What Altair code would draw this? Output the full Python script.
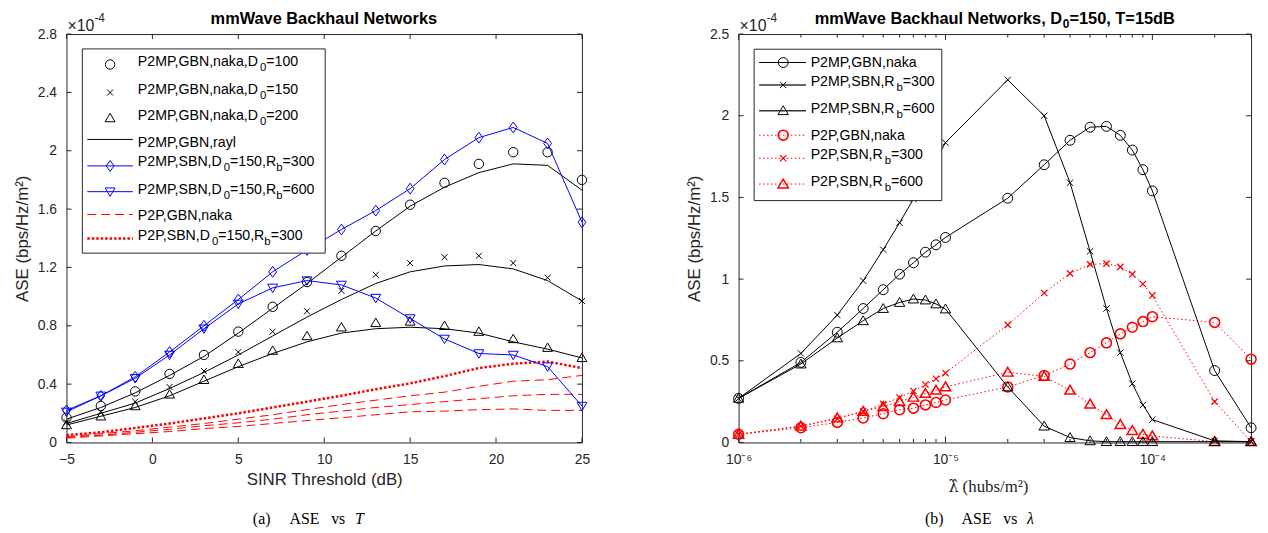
import altair as alt
import pandas as pd

# ---------------- data: left panel (ASE in units of 1e-4 bps/Hz/m^2) ----------------
T_DB = [-5, -3, -1, 1, 3, 5, 7, 9, 11, 13, 15, 17, 19, 21, 23, 25]
NAKA_D100 = [0.17, 0.25, 0.35, 0.47, 0.60, 0.76, 0.93, 1.10, 1.28, 1.45, 1.63, 1.78, 1.91, 1.99, 1.99, 1.80]
NAKA_D150 = [0.14, 0.21, 0.28, 0.38, 0.49, 0.62, 0.76, 0.90, 1.04, 1.15, 1.23, 1.27, 1.28, 1.23, 1.13, 0.97]
NAKA_D200 = [0.12, 0.18, 0.25, 0.33, 0.43, 0.54, 0.63, 0.73, 0.79, 0.82, 0.83, 0.80, 0.76, 0.71, 0.65, 0.58]
RAYL_D100 = [0.16, 0.24, 0.34, 0.46, 0.59, 0.75, 0.92, 1.09, 1.27, 1.45, 1.62, 1.75, 1.85, 1.91, 1.90, 1.73]
RAYL_D150 = [0.13, 0.20, 0.27, 0.37, 0.48, 0.60, 0.73, 0.86, 0.98, 1.09, 1.17, 1.21, 1.22, 1.19, 1.11, 0.97]
RAYL_D200 = [0.12, 0.18, 0.24, 0.32, 0.42, 0.52, 0.61, 0.69, 0.75, 0.78, 0.79, 0.78, 0.75, 0.69, 0.64, 0.58]
SBN_RB300 = [0.22, 0.32, 0.45, 0.62, 0.80, 0.98, 1.17, 1.32, 1.46, 1.59, 1.74, 1.94, 2.09, 2.16, 2.05, 1.51]
SBN_RB600 = [0.21, 0.32, 0.44, 0.60, 0.78, 0.95, 1.06, 1.11, 1.08, 0.99, 0.85, 0.71, 0.61, 0.60, 0.52, 0.25]
P2P_GBN_A = [0.04, 0.06, 0.08, 0.105, 0.13, 0.16, 0.19, 0.225, 0.26, 0.29, 0.32, 0.345, 0.385, 0.42, 0.43, 0.46]
P2P_GBN_B = [0.035, 0.05, 0.07, 0.09, 0.115, 0.135, 0.16, 0.19, 0.215, 0.24, 0.26, 0.28, 0.30, 0.32, 0.33, 0.33]
P2P_GBN_C = [0.03, 0.045, 0.06, 0.075, 0.095, 0.11, 0.13, 0.15, 0.17, 0.19, 0.21, 0.215, 0.225, 0.23, 0.22, 0.22]
P2P_SBN = [0.05, 0.07, 0.10, 0.13, 0.165, 0.20, 0.24, 0.28, 0.32, 0.365, 0.405, 0.455, 0.51, 0.54, 0.555, 0.51]

# ---------------- data: right panel ----------------
LAM = [1e-6, 2e-6, 3e-6, 4e-6, 5e-6, 6e-6, 7e-6, 8e-6, 9e-6, 1e-5,
       2e-5, 3e-5, 4e-5, 5e-5, 6e-5, 7e-5, 8e-5, 9e-5, 1e-4, 2e-4, 3e-4]
R_P2MP_GBN = [0.27, 0.49, 0.675, 0.82, 0.935, 1.03, 1.10, 1.165, 1.21, 1.255,
              1.495, 1.70, 1.85, 1.93, 1.935, 1.88, 1.79, 1.67, 1.54, 0.44, 0.09]
R_P2MP_SBN300 = [0.27, 0.545, 0.78, 0.99, 1.18, 1.345, 1.49, 1.62, 1.73, 1.835,
                 2.22, 2.0, 1.59, 1.17, 0.82, 0.55, 0.36, 0.23, 0.14, 0.01, 0.005]
R_P2MP_SBN600 = [0.27, 0.48, 0.64, 0.745, 0.82, 0.857, 0.878, 0.872, 0.848, 0.817,
                 0.34, 0.10, 0.03, 0.01, 0.005, 0.005, 0.005, 0.005, 0.005, 0.005, 0.005]
R_P2P_GBN = [0.05, 0.09, 0.123, 0.15, 0.176, 0.20, 0.21, 0.23, 0.245, 0.26,
             0.34, 0.41, 0.48, 0.55, 0.61, 0.665, 0.705, 0.74, 0.77, 0.735, 0.51]
R_P2P_SBN300 = [0.05, 0.10, 0.145, 0.19, 0.235, 0.275, 0.315, 0.355, 0.39, 0.425,
                0.72, 0.915, 1.035, 1.09, 1.095, 1.075, 1.03, 0.97, 0.90, 0.25, 0.005]
R_P2P_SBN600 = [0.05, 0.10, 0.15, 0.19, 0.22, 0.25, 0.277, 0.30, 0.32, 0.34,
                0.43, 0.405, 0.32, 0.235, 0.17, 0.11, 0.073, 0.05, 0.04, 0.005, 0.005]

# ---------------- ticks ----------------
LEFT_XTICKS = [-5, 0, 5, 10, 15, 20, 25]
LEFT_YTICKS = [0, 0.4, 0.8, 1.2, 1.6, 2.0, 2.4, 2.8]
RIGHT_XMAJOR = [1e-6, 1e-5, 1e-4]
RIGHT_XMINOR = [2e-6, 3e-6, 4e-6, 5e-6, 6e-6, 7e-6, 8e-6, 9e-6,
                2e-5, 3e-5, 4e-5, 5e-5, 6e-5, 7e-5, 8e-5, 9e-5, 2e-4, 3e-4]
RIGHT_YTICKS = [0, 0.5, 1.0, 1.5, 2.0, 2.5]

# ---------------- style ----------------
AX = "#262626"
FONT = "Liberation Sans"
SERIF = "Liberation Serif"
BLUE = "#0000ff"
RED = "#ff0000"
LW, LH = 520, 412
RW, RH = 517, 412

XSHAPE = "M-1,-1L1,1M-1,1L1,-1"
DIAMOND = "M0,-1L0.72,0L0,1L-0.72,0Z"
TRI_UP = "M0,-0.95L1,0.75L-1,0.75Z"
TRI_DOWN = "M0,0.95L1,-0.75L-1,-0.75Z"

ONE = pd.DataFrame({"k": [0]})

# Arial / Liberation Sans advance widths (per 1000 em) for label layout
W = {'P': 667, 'M': 833, 'G': 778, 'B': 667, 'N': 722, 'S': 667, 'D': 722, 'R': 722,
     ',': 278, '=': 584, 'a': 556, 'k': 500, 'n': 556, 'y': 500, 'r': 333, 'l': 222,
     'b': 556, '×': 584, '-': 333}
WB = {'m': 889, 'W': 944, 'a': 556, 'v': 556, 'e': 556, ' ': 278, 'B': 722, 'c': 556,
      'k': 556, 'h': 611, 'u': 611, 'l': 278, 'N': 722, 't': 333, 'w': 778, 'o': 611,
      'r': 389, 's': 556, ',': 278, 'D': 722, '=': 584, 'T': 611, 'd': 611}


def text_w(s, size, table=W):
    return sum(table.get(c, 556) for c in s) * size / 1000.0


def split_label(s):
    segs, buf, i = [], "", 0
    while i < len(s):
        if s[i] == "_":
            if buf:
                segs.append((buf, False))
                buf = ""
            segs.append((s[i + 1], True))
            i += 2
        else:
            buf += s[i]
            i += 1
    if buf:
        segs.append((buf, False))
    return segs


def seg_text(label, x0, y, size=14.3, sub_size=11.5, sub_dy=6, color="black",
             weight="normal", table=W, center=False):
    segs = split_label(label)
    if center:
        total = sum(text_w(t, sub_size if s else size, table) for t, s in segs)
        x0 = x0 - total / 2
    layers, x = [], x0
    for txt, sub in segs:
        fs = sub_size if sub else size
        layers.append(
            alt.Chart(ONE).mark_text(text=txt, align="left", baseline="middle", fontSize=fs,
                                     font=FONT, color=color, fontWeight=weight)
            .encode(x=alt.value(x), y=alt.value(y + (sub_dy if sub else 0)))
        )
        x += text_w(txt, fs, table)
    return layers


def frame(xs, ys):
    return pd.DataFrame({"x": xs, "y": ys})


# ---------------- encodings ----------------
def lx():
    return alt.X("x:Q", scale=alt.Scale(domain=[-5, 25], nice=False, zero=False),
                 axis=alt.Axis(values=LEFT_XTICKS, title="SINR Threshold (dB)",
                               labelPadding=10, titlePadding=5))


def ly():
    return alt.Y("y:Q", scale=alt.Scale(domain=[0, 2.8], nice=False, zero=False),
                 axis=alt.Axis(values=LEFT_YTICKS, format=".1~f", title="ASE (bps/Hz/m²)",
                               labelPadding=10, titlePadding=6))


def rx():
    return alt.X("x:Q", scale=alt.Scale(type="log", domain=[1e-6, 3e-4], nice=False),
                 axis=alt.Axis(values=RIGHT_XMAJOR, title=None, labelPadding=10,
                               labelExpr="datum.value < 5e-6 ? '10⁻⁶' : (datum.value < 5e-5 ? '10⁻⁵' : '10⁻⁴')"))


def ry():
    return alt.Y("y:Q", scale=alt.Scale(domain=[0, 2.5], nice=False, zero=False),
                 axis=alt.Axis(values=RIGHT_YTICKS, format=".1~f", title="ASE (bps/Hz/m²)",
                               labelPadding=10, titlePadding=6))


def line(xs, ys, X, Y, color, width=1.0, dash=None):
    kw = dict(color=color, strokeWidth=width)
    if dash:
        kw["strokeDash"] = dash
    return alt.Chart(frame(xs, ys)).mark_line(**kw).encode(x=X(), y=Y())


def pts(xs, ys, X, Y, shape, color, size, sw=1.0):
    return alt.Chart(frame(xs, ys)).mark_point(shape=shape, filled=False, color=color, size=size,
                                               strokeWidth=sw, opacity=1).encode(x=X(), y=Y())


def xticks(vals, X, H, length):
    d = pd.DataFrame({"x": vals})
    b = alt.Chart(d).mark_rule(color=AX, strokeWidth=1).encode(x=X(), y=alt.value(H), y2=alt.value(H - length))
    t = alt.Chart(d).mark_rule(color=AX, strokeWidth=1).encode(x=X(), y=alt.value(0), y2=alt.value(length))
    return [b, t]


def yticks(vals, Y, Wd, length):
    d = pd.DataFrame({"y": vals})
    l = alt.Chart(d).mark_rule(color=AX, strokeWidth=1).encode(y=Y(), x=alt.value(0), x2=alt.value(length))
    r = alt.Chart(d).mark_rule(color=AX, strokeWidth=1).encode(y=Y(), x=alt.value(Wd), x2=alt.value(Wd - length))
    return [l, r]


def legend(box, rows, mx, lx1, lx2, tx):
    x1, y1, x2, y2 = box
    layers = [alt.Chart(ONE).mark_rect(fill="white", stroke=AX, strokeWidth=1)
              .encode(x=alt.value(x1), x2=alt.value(x2), y=alt.value(y1), y2=alt.value(y2))]
    for r in rows:
        if r.get("line"):
            color, width, dash = r["line"]
            kw = dict(color=color, strokeWidth=width)
            if dash:
                kw["strokeDash"] = dash
            layers.append(alt.Chart(ONE).mark_rule(**kw).encode(
                x=alt.value(lx1), x2=alt.value(lx2), y=alt.value(r["my"])))
        if r.get("marker"):
            shape, color, size, sw = r["marker"]
            layers.append(alt.Chart(ONE).mark_point(shape=shape, filled=False, color=color, size=size,
                                                    strokeWidth=sw, opacity=1)
                          .encode(x=alt.value(mx), y=alt.value(r["my"])))
        layers += seg_text(r["label"], tx, r["ty"])
    return layers


def header(title, Wd):
    t = seg_text(title, Wd / 2, -15.5, size=16.5, sub_size=12, sub_dy=5, weight="bold",
                 table=WB, center=True)
    e1 = alt.Chart(ONE).mark_text(text="×10", align="left", baseline="middle", fontSize=16,
                                  font=FONT, color=AX).encode(x=alt.value(1), y=alt.value(-8))
    e2 = alt.Chart(ONE).mark_text(text="-4", align="left", baseline="middle", fontSize=12,
                                  font=FONT, color=AX).encode(x=alt.value(1 + text_w("×10", 16)), y=alt.value(-16))
    return t + [e1, e2]


def caption(parts, y):
    layers = []
    for txt, x, italic in parts:
        layers.append(alt.Chart(ONE).mark_text(text=txt, align="left", baseline="middle", fontSize=16,
                                               font=SERIF, color="black",
                                               fontStyle="italic" if italic else "normal")
                      .encode(x=alt.value(x), y=alt.value(y)))
    return layers


# ---------------- left panel ----------------
left_layers = [
    line(T_DB, P2P_GBN_A, lx, ly, RED, 1, [9, 5]),
    line(T_DB, P2P_GBN_B, lx, ly, RED, 1, [9, 5]),
    line(T_DB, P2P_GBN_C, lx, ly, RED, 1, [9, 5]),
    line(T_DB, P2P_SBN, lx, ly, RED, 2.5, [2.5, 2]),
    line(T_DB, RAYL_D100, lx, ly, "black", 1),
    line(T_DB, RAYL_D150, lx, ly, "black", 1),
    line(T_DB, RAYL_D200, lx, ly, "black", 1),
    pts(T_DB, NAKA_D100, lx, ly, "circle", "black", 90),
    pts(T_DB, NAKA_D150, lx, ly, XSHAPE, "black", 36),
    pts(T_DB, NAKA_D200, lx, ly, TRI_UP, "black", 100),
    line(T_DB, SBN_RB300, lx, ly, BLUE, 1),
    pts(T_DB, SBN_RB300, lx, ly, DIAMOND, BLUE, 120),
    line(T_DB, SBN_RB600, lx, ly, BLUE, 1),
    pts(T_DB, SBN_RB600, lx, ly, TRI_DOWN, BLUE, 100),
]
left_layers += xticks(LEFT_XTICKS, lx, LH, 5)
left_layers += yticks(LEFT_YTICKS, ly, LW, 5)
left_rows = [
    dict(label="P2MP,GBN,naka,D_0=100", marker=("circle", "black", 90, 1), my=30.7, ty=28.7),
    dict(label="P2MP,GBN,naka,D_0=150", marker=(XSHAPE, "black", 36, 1), my=59, ty=56.3),
    dict(label="P2MP,GBN,naka,D_0=200", marker=(TRI_UP, "black", 100, 1), my=84.7, ty=82.3),
    dict(label="P2MP,GBN,rayl", line=("black", 1, None), my=106.3, ty=109.7),
    dict(label="P2MP,SBN,D_0=150,R_b=300", line=(BLUE, 1, None), marker=(DIAMOND, BLUE, 120, 1), my=133, ty=129.5),
    dict(label="P2MP,SBN,D_0=150,R_b=600", line=(BLUE, 1, None), marker=(TRI_DOWN, BLUE, 100, 1), my=159, ty=157),
    dict(label="P2P,GBN,naka", line=(RED, 1.2, [9, 5]), my=182, ty=184),
    dict(label="P2P,SBN,D_0=150,R_b=300", line=(RED, 2.5, [2.5, 2]), my=206.3, ty=204),
]
left_layers += legend((16, 15, 261, 221), left_rows, 44, 21, 67, 72)
left_layers += header("mmWave Backhaul Networks", LW)
left_layers += caption([("(a)", 188, False), ("ASE", 225, False), ("vs", 267, False), ("T", 291, True)], 489)

left = alt.layer(*left_layers).properties(width=LW, height=LH)

# ---------------- right panel ----------------
right_layers = [
    line(LAM, R_P2P_GBN, rx, ry, RED, 1, [1.5, 2.5]),
    line(LAM, R_P2P_SBN300, rx, ry, RED, 1, [1.5, 2.5]),
    line(LAM, R_P2P_SBN600, rx, ry, RED, 1, [1.5, 2.5]),
    pts(LAM, R_P2P_GBN, rx, ry, "circle", RED, 100, 1.6),
    pts(LAM, R_P2P_SBN300, rx, ry, XSHAPE, RED, 40, 1.3),
    pts(LAM, R_P2P_SBN600, rx, ry, TRI_UP, RED, 110, 1.5),
    line(LAM, R_P2MP_GBN, rx, ry, "black", 1),
    line(LAM, R_P2MP_SBN300, rx, ry, "black", 1),
    line(LAM, R_P2MP_SBN600, rx, ry, "black", 1),
    pts(LAM, R_P2MP_GBN, rx, ry, "circle", "black", 100),
    pts(LAM, R_P2MP_SBN300, rx, ry, XSHAPE, "black", 40),
    pts(LAM, R_P2MP_SBN600, rx, ry, TRI_UP, "black", 110),
]
right_layers += xticks(RIGHT_XMAJOR, rx, RH, 6)
right_layers += xticks(RIGHT_XMINOR, rx, RH, 3.5)
right_layers += yticks(RIGHT_YTICKS, ry, RW, 5)
right_rows = [
    dict(label="P2MP,GBN,naka", line=("black", 1, None), marker=("circle", "black", 100, 1), my=28.7, ty=29.7),
    dict(label="P2MP,SBN,R_b=300", line=("#333333", 1.5, None), marker=(XSHAPE, "black", 40, 1), my=51.3, ty=48.7),
    dict(label="P2MP,SBN,R_b=600", line=("#333333", 1.5, None), marker=(TRI_UP, "black", 110, 1), my=77.3, ty=75.3),
    dict(label="P2P,GBN,naka", line=(RED, 1, [1.5, 2.5]), marker=("circle", RED, 100, 1.6), my=102, ty=103),
    dict(label="P2P,SBN,R_b=300", line=(RED, 1, [1.5, 2.5]), marker=(XSHAPE, RED, 40, 1.3), my=125.3, ty=122),
    dict(label="P2P,SBN,R_b=600", line=(RED, 1, [1.5, 2.5]), marker=(TRI_UP, RED, 110, 1.5), my=151.3, ty=149.7),
]
right_layers += legend((15.7, 15.3, 205, 168), right_rows, 45, 20.7, 68, 72.7)
right_layers += header("mmWave Backhaul Networks, D_0=150, T=15dB", RW)
right_layers += caption([("(b)", 188, False), ("ASE", 225, False), ("vs", 267, False), ("λ", 291, True)], 489)

# x-axis title of the right panel: hatted lambda (combining circumflex) + unit
right_layers += [
    alt.Chart(ONE).mark_text(text="λ̂", align="right", baseline="middle", fontSize=16,
                             font="DejaVu Serif", color=AX).encode(x=alt.value(222), y=alt.value(457)),
    alt.Chart(ONE).mark_text(text="(hubs/m²)", align="left", baseline="middle", fontSize=17, font=SERIF,
                             color=AX).encode(x=alt.value(226), y=alt.value(457)),
]

right = alt.layer(*right_layers).properties(width=RW, height=RH)

chart = (
    alt.hconcat(left, right, spacing=95)
    .properties(padding={"left": 5, "top": 0, "right": 0, "bottom": 0})
    .configure_view(stroke=AX, strokeWidth=1)
    .configure_axis(domain=False, ticks=False, tickSize=0, grid=False,
                    labelFont=FONT, labelFontSize=14, labelColor=AX,
                    titleFont=FONT, titleFontSize=17, titleFontWeight="normal", titleColor=AX,
                    labelFlush=False, labelOverlap=False)
)

chart.save("out.html", embed_options={"renderer": "svg", "actions": False})
